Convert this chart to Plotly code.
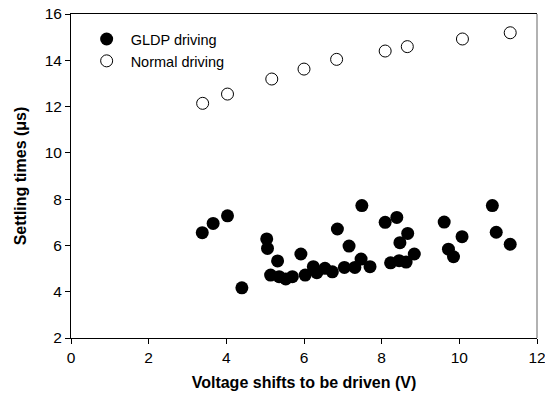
import plotly.graph_objects as go

# GLDP driving (filled)
gldp_x = [3.38, 3.66, 4.03, 4.40, 5.04, 5.06, 5.32, 5.14, 5.36, 5.53, 5.70, 5.92, 6.03,
          6.24, 6.33, 6.54, 6.73, 6.86, 7.49, 7.16, 7.04, 7.31, 7.47, 7.70, 8.09, 8.39,
          8.67, 8.47, 8.84, 8.23, 8.45, 8.63, 9.61, 10.85, 10.07, 10.95, 11.31, 9.72, 9.85]
gldp_y = [6.55, 6.95, 7.28, 4.17, 6.28, 5.87, 5.33, 4.72, 4.65, 4.55, 4.65, 5.63, 4.72,
          5.08, 4.82, 5.01, 4.86, 6.71, 7.72, 5.97, 5.05, 5.05, 5.41, 5.08, 7.00, 7.21,
          6.52, 6.12, 5.63, 5.25, 5.34, 5.28, 7.01, 7.72, 6.38, 6.57, 6.05, 5.84, 5.51]

# Normal driving (open)
normal_x = [3.39, 4.03, 5.17, 6.00, 6.84, 8.09, 8.66, 10.08, 11.31]
normal_y = [12.14, 12.54, 13.19, 13.62, 14.04, 14.40, 14.59, 14.92, 15.19]

x_ticks = [0, 2, 4, 6, 8, 10, 12]
y_ticks = [2, 4, 6, 8, 10, 12, 14, 16]

font = "Liberation Sans, Arial, sans-serif"

fig = go.Figure()
fig.add_trace(go.Scatter(
    x=gldp_x, y=gldp_y, mode="markers", name="GLDP driving",
    marker=dict(symbol="circle", size=13, color="black", line=dict(width=0)),
))
fig.add_trace(go.Scatter(
    x=normal_x, y=normal_y, mode="markers", name="Normal driving",
    marker=dict(symbol="circle-open", size=12, color="black", line=dict(width=1, color="#222")),
))

fig.update_layout(
    width=545, height=400,
    margin=dict(l=71, r=8, t=14, b=62, autoexpand=False),
    paper_bgcolor="white", plot_bgcolor="white",
    font=dict(family=font, size=15, color="black"),
    showlegend=True,
    legend=dict(x=0.025, y=0.972, xanchor="left", yanchor="top",
                bgcolor="rgba(0,0,0,0)", font=dict(size=14.5, family=font),
                tracegroupgap=0, itemwidth=38),
    xaxis=dict(
        range=[0, 12], tickvals=x_ticks, ticks="outside", ticklen=5, tickcolor="black",
        showline=True, linecolor="black", linewidth=1, mirror=True,
        showgrid=False, zeroline=False, ticklabeloverflow="allow", automargin=False,
        title=dict(text="<b>Voltage shifts to be driven (V)</b>", font=dict(size=16), standoff=12),
        tickfont=dict(size=15.5),
    ),
    yaxis=dict(
        range=[2, 16], tickvals=y_ticks, ticks="outside", ticklen=5, tickcolor="black",
        showline=True, linecolor="black", linewidth=1, automargin=False,
        showgrid=False, zeroline=False,
        title=dict(text="<b>Settling times (μs)</b>", font=dict(size=16), standoff=14),
        tickfont=dict(size=15.5),
    ),
    shapes=[dict(type="line", xref="paper", yref="paper", x0=1, x1=1, y0=0, y1=1,
                 line=dict(color="#999", width=1.5))],
)

fig.write_html("out.html")
